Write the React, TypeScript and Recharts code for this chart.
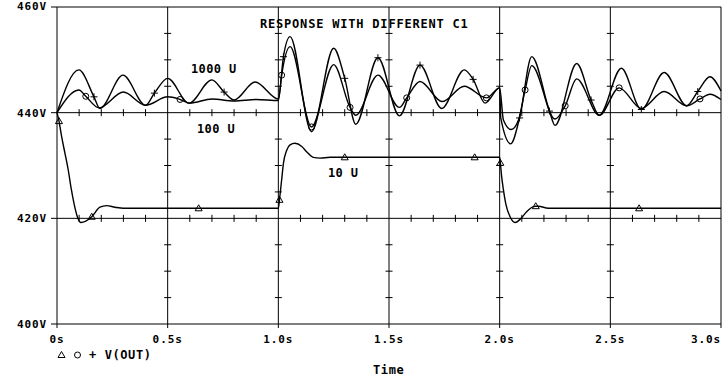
import React from 'react';
import { ComposedChart, Line, Scatter, XAxis, YAxis, ReferenceLine } from 'recharts';

// ---- data ----
// C1 = 10u  (triangle markers)
const c10T = [0, 0.009, 0.021, 0.036, 0.051, 0.063, 0.077, 0.092, 0.108, 0.157, 0.194, 0.224, 0.262, 0.30, 0.64, 1.0, 1.005, 1.015, 1.023, 1.038, 1.053, 1.075, 1.106, 1.128, 1.158, 1.188, 1.234, 1.30, 1.887, 2.0, 2.003, 2.009, 2.017, 2.029, 2.047, 2.07, 2.092, 2.122, 2.152, 2.163, 2.175, 2.22, 2.63, 3.0];
const c10V = [440.0, 438.4, 435.45, 432.3, 429.1, 425.9, 422.8, 420.3, 419.2, 420.3, 422.1, 422.4, 422.1, 421.9, 421.9, 421.9, 423.5, 427.3, 430.4, 432.9, 433.9, 434.2, 433.6, 432.6, 431.55, 431.4, 431.55, 431.55, 431.55, 431.55, 430.5, 427.9, 425.4, 422.5, 420.3, 419.2, 419.8, 421.25, 422.2, 422.3, 422.3, 421.9, 421.9, 421.9];
const c10Marks = [0.009, 0.157, 0.64, 1.005, 1.30, 1.887, 2.003, 2.163, 2.63];

// C1 = 100u (circle markers)
const c100T = [0, 0.099, 0.13, 0.19, 0.30, 0.40, 0.50, 0.556, 0.60, 0.70, 0.80, 0.90, 1.0, 1.015, 1.053, 1.15, 1.25, 1.324, 1.35, 1.45, 1.547, 1.58, 1.64, 1.74, 1.84, 1.94, 2.0, 2.017, 2.052, 2.085, 2.115, 2.145, 2.25, 2.296, 2.348, 2.45, 2.54, 2.64, 2.743, 2.845, 2.905, 2.95, 3.0];
const c100V = [440.0, 444.3, 443.1, 440.9, 443.9, 441.4, 443.0, 442.5, 441.8, 442.6, 442.2, 442.5, 442.3, 447.1, 452.5, 437.3, 449.1, 441.0, 439.5, 447.1, 441.0, 442.8, 445.9, 442.1, 445.0, 442.8, 444.7, 438.6, 436.8, 438.6, 444.3, 448.9, 438.8, 441.3, 446.4, 439.5, 444.7, 440.8, 444.0, 441.3, 442.6, 443.5, 442.5];
const c100Marks = [0.13, 0.556, 1.015, 1.15, 1.324, 1.58, 1.94, 2.115, 2.296, 2.54, 2.905];

// C1 = 1000u (plus markers)
const c1000T = [0, 0.099, 0.167, 0.194, 0.298, 0.40, 0.44, 0.50, 0.596, 0.70, 0.755, 0.80, 0.895, 1.0, 1.023, 1.053, 1.15, 1.25, 1.30, 1.35, 1.45, 1.547, 1.64, 1.738, 1.84, 1.88, 1.934, 2.0, 2.005, 2.05, 2.09, 2.145, 2.225, 2.25, 2.348, 2.413, 2.45, 2.55, 2.64, 2.743, 2.845, 2.895, 2.95, 3.0];
const c1000V = [440.0, 448.1, 443.0, 440.8, 447.1, 441.4, 443.7, 446.5, 441.8, 446.2, 443.9, 442.4, 445.8, 442.6, 450.6, 454.4, 436.4, 452.2, 446.5, 437.8, 450.4, 439.4, 449.0, 440.8, 448.1, 446.3, 441.8, 444.7, 439.0, 434.1, 439.0, 450.6, 440.3, 437.6, 449.3, 442.4, 439.5, 448.4, 440.6, 447.6, 441.3, 444.0, 446.8, 444.1];
const c1000Marks = [0.167, 0.44, 0.755, 1.023, 1.30, 1.45, 1.64, 1.88, 2.09, 2.225, 2.413, 2.64, 2.895];

// axes
const xTicks = [0, 0.5, 1.0, 1.5, 2.0, 2.5, 3.0];
const xTickLabels = ['0s', '0.5s', '1.0s', '1.5s', '2.0s', '2.5s', '3.0s'];
const yTicks = [400, 420, 440, 460];
const yTickLabels = ['400V', '420V', '440V', '460V'];
const gridTimes = [0.5, 1.0, 1.5, 2.0, 2.5];
const gridLevels = [440, 420];
// minor tick marks drawn on the grid lines
const hTickTimes = [0.1, 0.2, 0.3, 0.4, 0.6, 0.7, 0.8, 0.9, 1.1, 1.2, 1.3, 1.4, 1.6, 1.7, 1.8, 1.9, 2.1, 2.2, 2.3, 2.4, 2.6, 2.7, 2.8, 2.9];
const vTickLevels = [405, 410, 415, 425, 430, 435, 445, 450, 455];

const FONT = '"DejaVu Sans Mono", "Liberation Mono", monospace';

type Pt = { t: number; v: number };
const zip = (ts: number[], vs: number[]): Pt[] => {
  const n = Math.min(ts.length, vs.length);
  const out: Pt[] = [];
  for (let i = 0; i < n; i++) out.push({ t: ts[i], v: vs[i] });
  return out;
};

const s10 = zip(c10T, c10V);
const s100 = zip(c100T, c100V);
const s1000 = zip(c1000T, c1000V);
const hTickData: Pt[] = gridLevels.flatMap((v) => hTickTimes.map((t) => ({ t, v })));
const vTickData: Pt[] = gridTimes.flatMap((t) => vTickLevels.map((v) => ({ t, v })));

const Marker = ({ kind, cx, cy }: { kind: string; cx: number; cy: number }) => {
  if (kind === 'tri')
    return (
      <polygon
        points={`${cx},${cy - 3.5} ${cx - 3.5},${cy + 2.5} ${cx + 3.5},${cy + 2.5}`}
        fill="none"
        stroke="#000"
        strokeWidth={1}
      />
    );
  if (kind === 'circ') return <circle cx={cx} cy={cy} r={3} fill="none" stroke="#000" strokeWidth={1} />;
  return (
    <g stroke="#000" strokeWidth={1}>
      <line x1={cx - 3.5} y1={cy} x2={cx + 3.5} y2={cy} />
      <line x1={cx} y1={cy - 3.5} x2={cx} y2={cy + 3.5} />
    </g>
  );
};

const makeDot = (marks: number[], kind: string) => (props: any) => {
  const { cx, cy, payload, index } = props;
  if (!payload || !marks.includes(payload.t)) return <g key={`d${kind}${index}`} />;
  return (
    <g key={`d${kind}${index}`}>
      <Marker kind={kind} cx={cx} cy={cy} />
    </g>
  );
};

const VTickShape = (props: any) => (
  <line x1={props.cx} y1={props.cy - 3.5} x2={props.cx} y2={props.cy + 3.5} stroke="#000" strokeWidth={1} />
);
const HTickShape = (props: any) => (
  <line x1={props.cx - 3.5} y1={props.cy} x2={props.cx + 3.5} y2={props.cy} stroke="#000" strokeWidth={1} />
);

const XTick = (props: any) => {
  const { x, y, payload } = props;
  const i = xTicks.indexOf(payload.value);
  const last = i === xTicks.length - 1;
  return (
    <text
      x={x}
      y={y}
      dy={13}
      textAnchor={last ? 'end' : 'middle'}
      fontFamily={FONT}
      fontWeight="bold"
      fontSize={11}
      letterSpacing={0.9}
      fill="#000"
    >
      {xTickLabels[i]}
    </text>
  );
};

const YTick = (props: any) => {
  const { x, y, payload } = props;
  const i = yTicks.indexOf(payload.value);
  const top = i === yTicks.length - 1;
  return (
    <text
      x={x}
      y={y}
      dx={-2}
      dy={top ? 3 : 4}
      textAnchor="end"
      fontFamily={FONT}
      fontWeight="bold"
      fontSize={11}
      letterSpacing={0.9}
      fill="#000"
    >
      {yTickLabels[i]}
    </text>
  );
};

const txt = {
  fontFamily: FONT,
  fontWeight: 'bold' as const,
  fontSize: 12,
  fill: '#000',
};

export default function App() {
  return (
    <div style={{ position: 'absolute', left: 0, top: 0, width: 728, height: 391, background: '#fff' }}>
      <ComposedChart width={728} height={391} margin={{ top: 7, right: 7, left: 7, bottom: 0 }}>
        <XAxis
          type="number"
          dataKey="t"
          domain={[0, 3]}
          ticks={xTicks}
          interval={0}
          height={67}
          tickSize={4}
          axisLine={{ stroke: '#000', strokeWidth: 1 }}
          tickLine={{ stroke: '#000', strokeWidth: 1 }}
          tick={<XTick />}
        />
        <YAxis
          type="number"
          dataKey="v"
          domain={[400, 460]}
          ticks={yTicks}
          interval={0}
          width={50}
          tickSize={6}
          axisLine={{ stroke: '#000', strokeWidth: 1 }}
          tickLine={{ stroke: '#000', strokeWidth: 1 }}
          tick={<YTick />}
        />
        {gridTimes.map((t) => (
          <ReferenceLine key={`gx${t}`} x={t} stroke="#000" strokeWidth={1} ifOverflow="visible" />
        ))}
        <ReferenceLine x={3} stroke="#000" strokeWidth={1} />
        {gridLevels.map((v) => (
          <ReferenceLine key={`gy${v}`} y={v} stroke="#000" strokeWidth={1} />
        ))}
        <ReferenceLine y={460} stroke="#000" strokeWidth={1} />
        <Scatter data={hTickData} shape={<VTickShape />} isAnimationActive={false} />
        <Scatter data={vTickData} shape={<HTickShape />} isAnimationActive={false} />
        <Line
          data={s10}
          dataKey="v"
          type="monotone"
          stroke="#000"
          strokeWidth={1.4}
          dot={makeDot(c10Marks, 'tri')}
          activeDot={false}
          isAnimationActive={false}
        />
        <Line
          data={s100}
          dataKey="v"
          type="monotone"
          stroke="#000"
          strokeWidth={1.4}
          dot={makeDot(c100Marks, 'circ')}
          activeDot={false}
          isAnimationActive={false}
        />
        <Line
          data={s1000}
          dataKey="v"
          type="monotone"
          stroke="#000"
          strokeWidth={1.4}
          dot={makeDot(c1000Marks, 'plus')}
          activeDot={false}
          isAnimationActive={false}
        />
        <text x={260} y={28} {...txt} letterSpacing={0.8}>
          RESPONSE WITH DIFFERENT C1
        </text>
        <text x={191} y={73} {...txt} letterSpacing={0.4}>
          1000 U
        </text>
        <text x={197} y={133} {...txt} letterSpacing={0.4}>
          100 U
        </text>
        <text x={328} y={176.5} {...txt} letterSpacing={0.4}>
          10 U
        </text>
        <text x={373} y={374} {...txt} letterSpacing={0.6}>
          Time
        </text>
        <Marker kind="tri" cx={61.5} cy={355} />
        <Marker kind="circ" cx={77.5} cy={355} />
        <text x={89} y={359} {...txt} letterSpacing={0.6}>
          + V(OUT)
        </text>
      </ComposedChart>
    </div>
  );
}
